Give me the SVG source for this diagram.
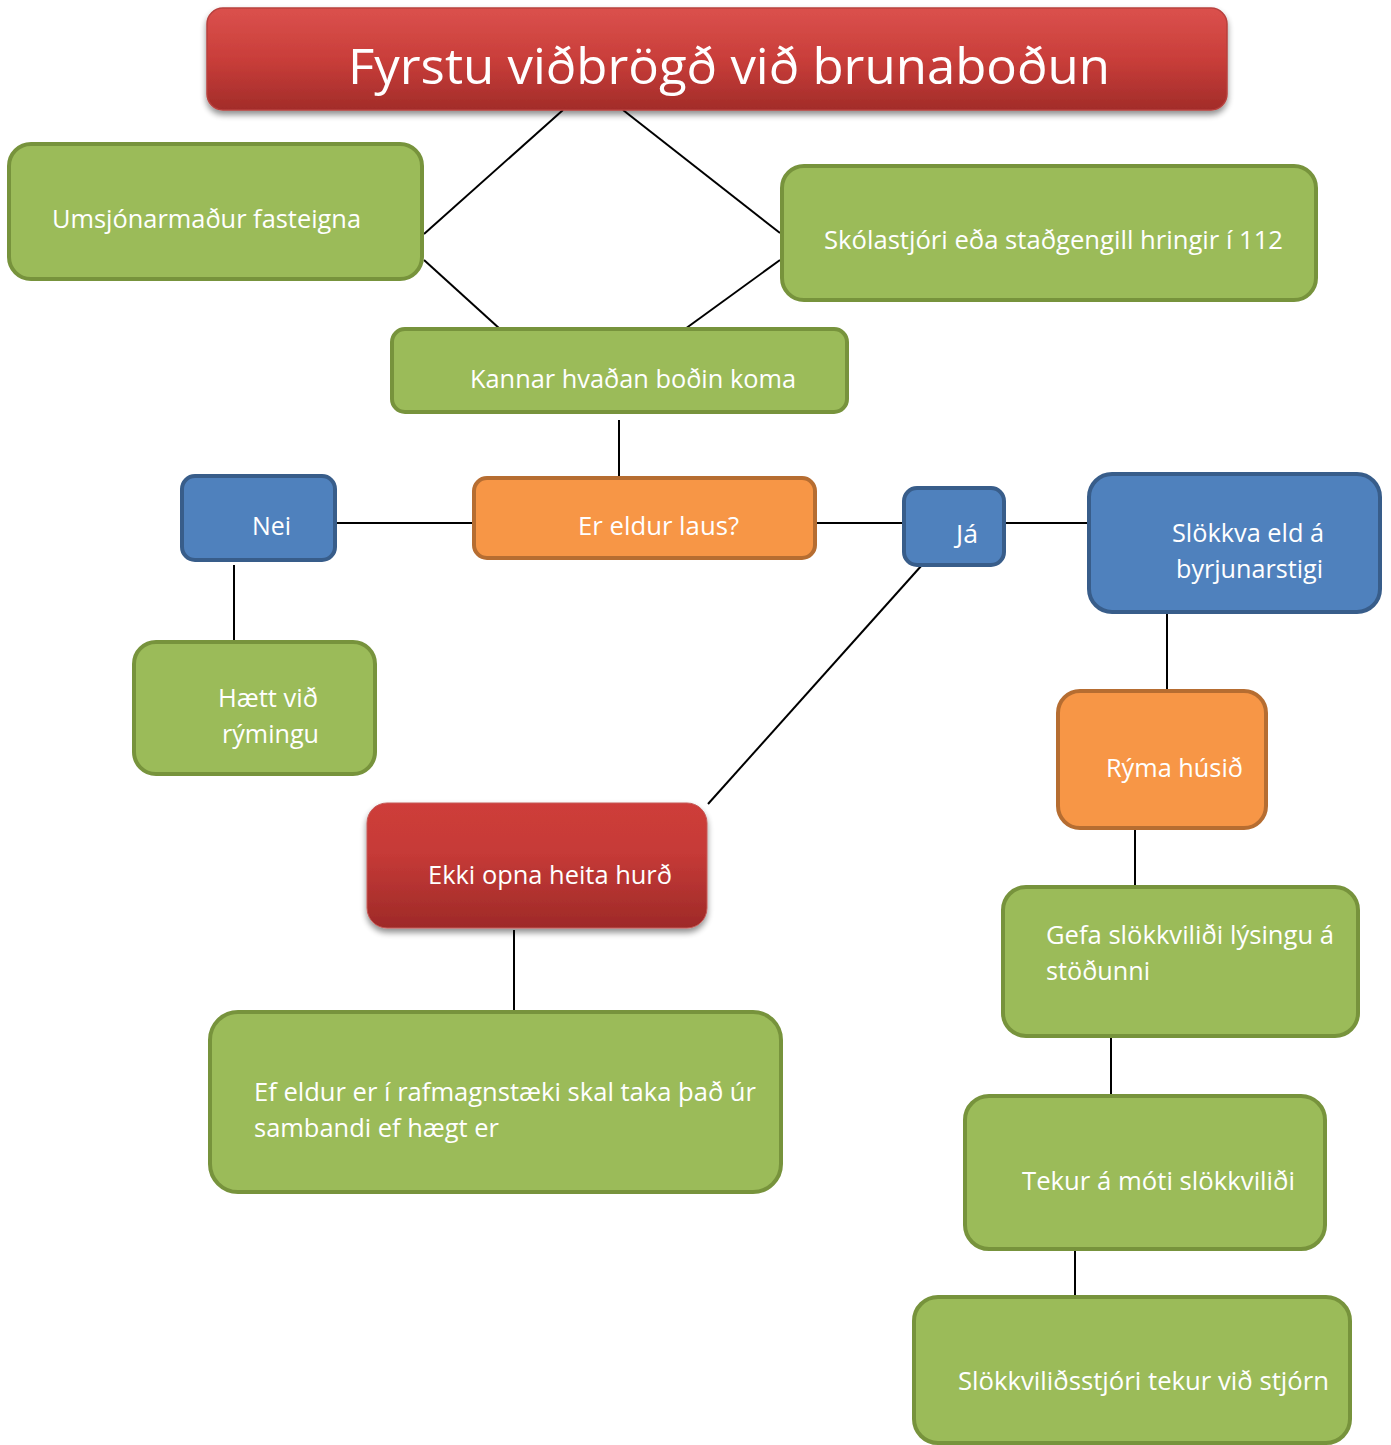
<svg xmlns="http://www.w3.org/2000/svg" width="1391" height="1445" viewBox="0 0 1391 1445">
<defs>
<linearGradient id="redG" x1="0" y1="0" x2="0" y2="1">
<stop offset="0" stop-color="#DB514D"/>
<stop offset="0.5" stop-color="#C93E3A"/>
<stop offset="1" stop-color="#A22C29"/>
</linearGradient>
<linearGradient id="redG2" x1="0" y1="0" x2="0" y2="1">
<stop offset="0" stop-color="#CE3D3A"/>
<stop offset="0.4" stop-color="#C63A37"/>
<stop offset="1" stop-color="#9E2A28"/>
</linearGradient>
<filter id="sh" x="-10%" y="-20%" width="120%" height="150%">
<feGaussianBlur in="SourceAlpha" stdDeviation="3"/>
<feOffset dy="4" result="b"/>
<feComponentTransfer><feFuncA type="linear" slope="0.45"/></feComponentTransfer>
<feMerge><feMergeNode/><feMergeNode in="SourceGraphic"/></feMerge>
</filter>
</defs>
<style>
.g{fill:#9BBB59;stroke:#77933C;stroke-width:4}
.o{fill:#F79646;stroke:#B66D31;stroke-width:4}
.b{fill:#4F81BD;stroke:#385D8A;stroke-width:4}
.t{font-family:"Open Sans","Liberation Sans",sans-serif;font-size:25px;fill:#FFFFFF}
.tt{font-family:"Open Sans","Liberation Sans",sans-serif;font-size:50px;fill:#FFFFFF}
.c line{stroke:#000000;stroke-width:2}
</style>
<g class="c" id="connectors">
<line x1="563" y1="110" x2="424" y2="234"/>
<line x1="623" y1="110" x2="780" y2="233"/>
<line x1="424" y1="260" x2="500" y2="329"/>
<line x1="780" y1="260" x2="685" y2="329"/>
<line x1="619" y1="420" x2="619" y2="479"/>
<line x1="336" y1="523" x2="473" y2="523"/>
<line x1="815" y1="523" x2="905" y2="523"/>
<line x1="1006" y1="523" x2="1090" y2="523"/>
<line x1="922" y1="565" x2="708" y2="804"/>
<line x1="234" y1="565" x2="234" y2="643"/>
<line x1="1167" y1="613" x2="1167" y2="692"/>
<line x1="1135" y1="830" x2="1135" y2="888"/>
<line x1="514" y1="930" x2="514" y2="1012"/>
<line x1="1111" y1="1037" x2="1111" y2="1096"/>
<line x1="1075" y1="1250" x2="1075" y2="1297"/>
</g>
<g id="title">
<rect x="207" y="8" width="1020" height="102" rx="16" fill="url(#redG)" stroke="#B8403D" stroke-width="1.5" filter="url(#sh)"/>
<text class="tt" x="348" y="84" textLength="762" lengthAdjust="spacingAndGlyphs">Fyrstu viðbrögð við brunaboðun</text>
</g>
<g id="umsjon">
<rect class="g" x="9" y="144" width="413" height="135" rx="22"/>
<text class="t" x="52" y="228" textLength="309" lengthAdjust="spacingAndGlyphs">Umsjónarmaður fasteigna</text>
</g>
<g id="skolastjori">
<rect class="g" x="782" y="166" width="534" height="134" rx="22"/>
<text class="t" x="824" y="249" textLength="459" lengthAdjust="spacingAndGlyphs">Skólastjóri eða staðgengill hringir í 112</text>
</g>
<g id="kannar">
<rect class="g" x="392" y="329" width="455" height="83" rx="13"/>
<text class="t" x="470" y="388" textLength="326" lengthAdjust="spacingAndGlyphs">Kannar hvaðan boðin koma</text>
</g>
<g id="er-eldur">
<rect class="o" x="474" y="478" width="341" height="80" rx="13"/>
<text class="t" x="578" y="535" textLength="161" lengthAdjust="spacingAndGlyphs">Er eldur laus?</text>
</g>
<g id="nei">
<rect class="b" x="182" y="476" width="153" height="84" rx="13"/>
<text class="t" x="252" y="535" textLength="39" lengthAdjust="spacingAndGlyphs">Nei</text>
</g>
<g id="ja">
<rect class="b" x="904" y="488" width="100" height="77" rx="13"/>
<text class="t" x="956" y="543" textLength="22" lengthAdjust="spacingAndGlyphs">Já</text>
</g>
<g id="slokkva">
<rect class="b" x="1089" y="474" width="291" height="138" rx="23"/>
<text class="t" x="1172" y="542" textLength="152" lengthAdjust="spacingAndGlyphs">Slökkva eld á</text>
<text class="t" x="1176" y="578" textLength="147" lengthAdjust="spacingAndGlyphs">byrjunarstigi</text>
</g>
<g id="haett">
<rect class="g" x="134" y="642" width="241" height="132" rx="22"/>
<text class="t" x="218" y="707" textLength="100" lengthAdjust="spacingAndGlyphs">Hætt við</text>
<text class="t" x="222" y="743" textLength="97" lengthAdjust="spacingAndGlyphs">rýmingu</text>
</g>
<g id="ekki-opna">
<rect x="367" y="803" width="340" height="125" rx="20" fill="url(#redG2)" stroke="#C55A57" stroke-width="1" filter="url(#sh)"/>
<text class="t" x="428" y="884" textLength="244" lengthAdjust="spacingAndGlyphs">Ekki opna heita hurð</text>
</g>
<g id="ef-eldur">
<rect class="g" x="210" y="1012" width="571" height="180" rx="28"/>
<text class="t" x="254" y="1101" textLength="502" lengthAdjust="spacingAndGlyphs">Ef eldur er í rafmagnstæki skal taka það úr</text>
<text class="t" x="254" y="1137" textLength="245" lengthAdjust="spacingAndGlyphs">sambandi ef hægt er</text>
</g>
<g id="ryma">
<rect class="o" x="1058" y="691" width="208" height="137" rx="22"/>
<text class="t" x="1106" y="777" textLength="137" lengthAdjust="spacingAndGlyphs">Rýma húsið</text>
</g>
<g id="gefa">
<rect class="g" x="1003" y="887" width="355" height="149" rx="23"/>
<text class="t" x="1046" y="944" textLength="288" lengthAdjust="spacingAndGlyphs">Gefa slökkviliði lýsingu á</text>
<text class="t" x="1046" y="980" textLength="104" lengthAdjust="spacingAndGlyphs">stöðunni</text>
</g>
<g id="tekur">
<rect class="g" x="965" y="1096" width="360" height="153" rx="24"/>
<text class="t" x="1022" y="1190" textLength="273" lengthAdjust="spacingAndGlyphs">Tekur á móti slökkviliði</text>
</g>
<g id="slokkvilidsstjori">
<rect class="g" x="914" y="1297" width="436" height="146" rx="24"/>
<text class="t" x="958" y="1390" textLength="371" lengthAdjust="spacingAndGlyphs">Slökkviliðsstjóri tekur við stjórn</text>
</g>
</svg>
